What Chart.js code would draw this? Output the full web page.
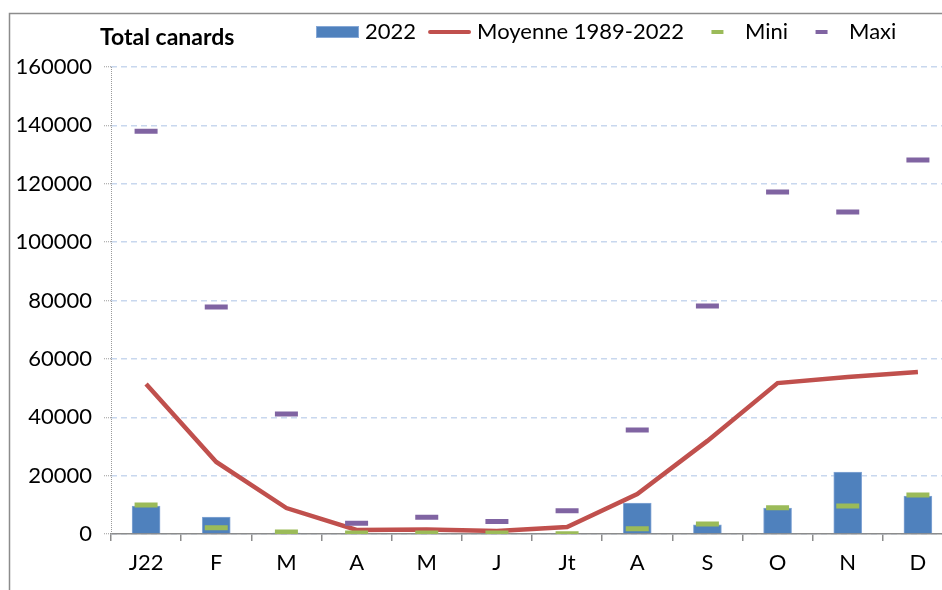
<!DOCTYPE html>
<html lang="fr">
<head>
<meta charset="utf-8">
<title>Total canards</title>
<script src="https://cdn.jsdelivr.net/npm/chart.js@4"></script>
<style>
  html, body { margin: 0; padding: 0; background: #fff; overflow: hidden; }
  #wrap { position: relative; width: 970px; height: 610px; }
</style>
</head>
<body>
<div id="wrap"><canvas id="chart"></canvas></div>
<script>
// Monthly duck counts: 2022 vs long-term mean, min and max
const MONTHS = ['J22', 'F', 'M', 'A', 'M', 'J', 'Jt', 'A', 'S', 'O', 'N', 'D'];
const COUNT_2022 = [9600, 5800, 300, 0, 0, 0, 0, 10600, 3100, 8900, 21200, 13000];
const MEAN_1989_2022 = [51400, 24700, 8900, 1400, 1500, 1000, 2400, 13700, 31900, 51700, 53800, 55500];
const MINI = [9900, 2100, 700, 300, 300, 300, 100, 1800, 3400, 9000, 9600, 13400];
const MAXI = [138000, 77800, 41100, 3700, 5700, 4300, 8000, 35600, 78100, 117200, 110300, 128100];
const Y_MAX = 160000;
const Y_STEP = 20000;

const COLORS = {
    bar: '#4f81bd',
    barEdge: '#86a8d6',
    mean: '#c0504d',
    mini: '#9bbb59',
    maxi: '#8064a2',
    grid: '#c8d7ee',
    axis: '#8c8c8c',
    frame: '#8c8c8c',
};

const FONT = 'Lato';

// outer frame + dotted value axis
const framePlugin = {
    id: 'frame',
    beforeDraw(chart) {
        const ctx = chart.ctx;
        ctx.save();
        ctx.strokeStyle = COLORS.frame;
        ctx.lineWidth = 1.5;
        ctx.strokeRect(9.5, 13.5, 2000, 2000);
        ctx.restore();
    },
    afterDatasetsDraw(chart) {
        const { ctx, chartArea } = chart;
        ctx.save();
        ctx.strokeStyle = '#9a9a9a';
        ctx.lineWidth = 1;
        ctx.setLineDash([1, 1]);
        ctx.beginPath();
        ctx.moveTo(chartArea.left + 0.5, chartArea.top);
        ctx.lineTo(chartArea.left + 0.5, chartArea.bottom);
        ctx.stroke();
        ctx.restore();
    },
};

// title and legend share one row above the plot
const LEGEND_MARKS = ['box', 'line', 'dash', 'dash'];
const headerPlugin = {
    id: 'header',
    afterDraw(chart) {
        const ctx = chart.ctx;
        ctx.save();
        ctx.fillStyle = '#000';
        ctx.textBaseline = 'middle';
        ctx.font = `bold 23px ${FONT}`;
        ctx.fillText('Total canards', 100, 38);

        ctx.font = `22px ${FONT}`;
        const y = 32;
        const markW = 43;
        let x = 316;
        chart.data.datasets.forEach((ds, i) => {
            const kind = LEGEND_MARKS[i];
            if (kind === 'box') {
                ctx.fillStyle = ds.backgroundColor;
                ctx.fillRect(x, y - 6, markW, 12);
                ctx.strokeStyle = ds.borderColor;
                ctx.lineWidth = 1;
                ctx.strokeRect(x + 0.5, y - 5.5, markW - 1, 11);
            } else if (kind === 'line') {
                ctx.strokeStyle = ds.borderColor;
                ctx.lineWidth = 4;
                ctx.lineCap = 'round';
                ctx.beginPath();
                ctx.moveTo(x + 2, y);
                ctx.lineTo(x + markW - 2, y);
                ctx.stroke();
            } else {
                ctx.strokeStyle = ds.pointBorderColor;
                ctx.lineWidth = 4;
                ctx.lineCap = 'butt';
                ctx.beginPath();
                ctx.moveTo(x + markW / 2 - 6, y);
                ctx.lineTo(x + markW / 2 + 6, y);
                ctx.stroke();
            }
            x += markW + 6;
            ctx.fillStyle = '#000';
            ctx.fillText(ds.label, x, y);
            x += ctx.measureText(ds.label).width + 12;
        });
        ctx.restore();
    },
};

new Chart(document.getElementById('chart'), {
    data: {
        labels: MONTHS,
        datasets: [
            {
                type: 'bar',
                label: '2022',
                data: COUNT_2022,
                backgroundColor: COLORS.bar,
                borderColor: COLORS.barEdge,
                borderWidth: 1,
                barThickness: 28,
                order: 4,
            },
            {
                type: 'line',
                label: 'Moyenne 1989-2022',
                data: MEAN_1989_2022,
                borderColor: COLORS.mean,
                borderWidth: 4.5,
                pointRadius: 0,
                tension: 0,
                order: 3,
            },
            {
                type: 'line',
                label: 'Mini',
                data: MINI,
                showLine: false,
                pointStyle: 'line',
                pointRadius: 11.5,
                pointBorderWidth: 5,
                pointBorderColor: COLORS.mini,
                borderColor: COLORS.mini,
                order: 1,
            },
            {
                type: 'line',
                label: 'Maxi',
                data: MAXI,
                showLine: false,
                pointStyle: 'line',
                pointRadius: 11.5,
                pointBorderWidth: 5,
                pointBorderColor: COLORS.maxi,
                borderColor: COLORS.maxi,
                order: 2,
            },
        ],
    },
    options: {
        responsive: true,
        maintainAspectRatio: false,
        animation: false,
        layout: { padding: { left: 10, top: 67, right: 17, bottom: 20 } },
        plugins: {
            legend: { display: false },
            tooltip: { enabled: false },
        },
        scales: {
            x: {
                offset: true,
                grid: {
                    offset: true,
                    drawOnChartArea: false,
                    tickLength: 7,
                    color: COLORS.axis,
                    lineWidth: 1.5,
                },
                border: { color: COLORS.axis, width: 1.5 },
                ticks: { color: '#000', font: { family: FONT, size: 22 }, padding: 9 },
                afterFit(scale) { scale.height = 56; },
            },
            y: {
                min: 0,
                max: Y_MAX,
                grid: {
                    color: COLORS.grid,
                    lineWidth: 1.5,
                    tickLength: 7,
                    tickColor: '#9a9a9a',
                    tickWidth: 1,
                    tickBorderDash: [1, 1],
                },
                border: { display: false, dash: [6, 4] },
                ticks: {
                    stepSize: Y_STEP,
                    color: '#000',
                    font: { family: FONT, size: 22 },
                    padding: 12,
                    callback: v => String(v),
                },
                afterFit(scale) { scale.width = 101; },
            },
        },
    },
    plugins: [framePlugin, headerPlugin],
});
</script>
</body>
</html>
